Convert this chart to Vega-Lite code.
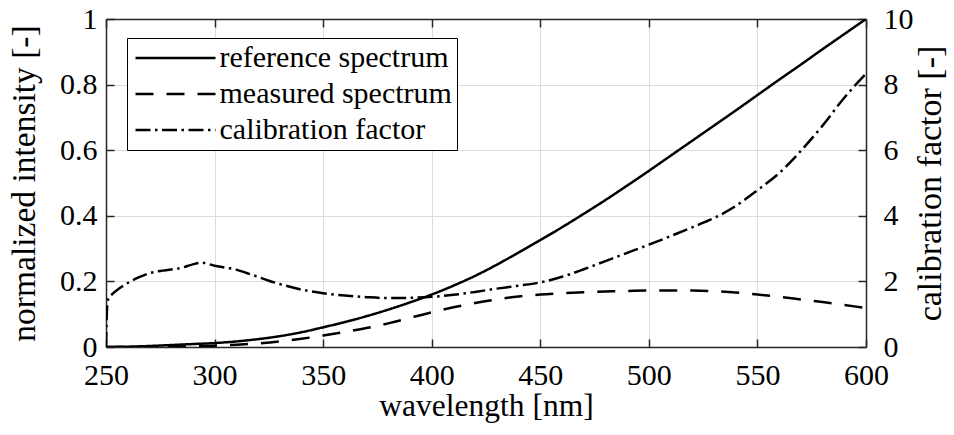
{
  "$schema": "https://vega.github.io/schema/vega-lite/v6.json",
  "width": 760,
  "height": 328,
  "autosize": {"type": "none"},
  "padding": {"left": 106, "top": 19, "right": 88, "bottom": 88},
  "background": "white",
  "config": {
    "font": "Liberation Serif",
    "view": {"stroke": null},
    "axis": {
      "domainColor": "#262626",
      "domainWidth": 1.5,
      "tickColor": "#262626",
      "tickWidth": 1.5,
      "tickSize": -8,
      "gridColor": "#dcdcdc",
      "gridWidth": 1,
      "labelFont": "Liberation Serif",
      "labelFontSize": 30,
      "labelColor": "black",
      "titleFont": "Liberation Serif",
      "titleFontSize": 31.5,
      "titleFontWeight": "normal",
      "titleColor": "black",
      "labelFlush": false,
      "labelOverlap": false,
      "format": "~r"
    }
  },
  "datasets": {
    "spectra": [
      {"wl": 250, "series": "reference spectrum", "value": 0.000},
      {"wl": 260, "series": "reference spectrum", "value": 0.001},
      {"wl": 270, "series": "reference spectrum", "value": 0.003},
      {"wl": 280, "series": "reference spectrum", "value": 0.006},
      {"wl": 290, "series": "reference spectrum", "value": 0.009},
      {"wl": 300, "series": "reference spectrum", "value": 0.012},
      {"wl": 310, "series": "reference spectrum", "value": 0.017},
      {"wl": 320, "series": "reference spectrum", "value": 0.024},
      {"wl": 330, "series": "reference spectrum", "value": 0.033},
      {"wl": 340, "series": "reference spectrum", "value": 0.045},
      {"wl": 350, "series": "reference spectrum", "value": 0.060},
      {"wl": 360, "series": "reference spectrum", "value": 0.076},
      {"wl": 370, "series": "reference spectrum", "value": 0.094},
      {"wl": 380, "series": "reference spectrum", "value": 0.114},
      {"wl": 390, "series": "reference spectrum", "value": 0.136},
      {"wl": 400, "series": "reference spectrum", "value": 0.160},
      {"wl": 410, "series": "reference spectrum", "value": 0.187},
      {"wl": 420, "series": "reference spectrum", "value": 0.217},
      {"wl": 430, "series": "reference spectrum", "value": 0.251},
      {"wl": 440, "series": "reference spectrum", "value": 0.288},
      {"wl": 450, "series": "reference spectrum", "value": 0.326},
      {"wl": 460, "series": "reference spectrum", "value": 0.365},
      {"wl": 470, "series": "reference spectrum", "value": 0.406},
      {"wl": 480, "series": "reference spectrum", "value": 0.448},
      {"wl": 490, "series": "reference spectrum", "value": 0.492},
      {"wl": 500, "series": "reference spectrum", "value": 0.537},
      {"wl": 510, "series": "reference spectrum", "value": 0.583},
      {"wl": 520, "series": "reference spectrum", "value": 0.629},
      {"wl": 530, "series": "reference spectrum", "value": 0.675},
      {"wl": 540, "series": "reference spectrum", "value": 0.721},
      {"wl": 550, "series": "reference spectrum", "value": 0.768},
      {"wl": 560, "series": "reference spectrum", "value": 0.815},
      {"wl": 570, "series": "reference spectrum", "value": 0.861},
      {"wl": 580, "series": "reference spectrum", "value": 0.908},
      {"wl": 590, "series": "reference spectrum", "value": 0.954},
      {"wl": 600, "series": "reference spectrum", "value": 1.000},
      {"wl": 250, "series": "measured spectrum", "value": 0.000},
      {"wl": 260, "series": "measured spectrum", "value": 0.000},
      {"wl": 270, "series": "measured spectrum", "value": 0.001},
      {"wl": 280, "series": "measured spectrum", "value": 0.001},
      {"wl": 290, "series": "measured spectrum", "value": 0.002},
      {"wl": 300, "series": "measured spectrum", "value": 0.004},
      {"wl": 310, "series": "measured spectrum", "value": 0.007},
      {"wl": 320, "series": "measured spectrum", "value": 0.011},
      {"wl": 330, "series": "measured spectrum", "value": 0.017},
      {"wl": 340, "series": "measured spectrum", "value": 0.025},
      {"wl": 350, "series": "measured spectrum", "value": 0.035},
      {"wl": 360, "series": "measured spectrum", "value": 0.046},
      {"wl": 370, "series": "measured spectrum", "value": 0.058},
      {"wl": 380, "series": "measured spectrum", "value": 0.072},
      {"wl": 390, "series": "measured spectrum", "value": 0.089},
      {"wl": 400, "series": "measured spectrum", "value": 0.106},
      {"wl": 410, "series": "measured spectrum", "value": 0.121},
      {"wl": 420, "series": "measured spectrum", "value": 0.134},
      {"wl": 430, "series": "measured spectrum", "value": 0.145},
      {"wl": 440, "series": "measured spectrum", "value": 0.154},
      {"wl": 450, "series": "measured spectrum", "value": 0.160},
      {"wl": 460, "series": "measured spectrum", "value": 0.164},
      {"wl": 470, "series": "measured spectrum", "value": 0.167},
      {"wl": 480, "series": "measured spectrum", "value": 0.169},
      {"wl": 490, "series": "measured spectrum", "value": 0.171},
      {"wl": 500, "series": "measured spectrum", "value": 0.172},
      {"wl": 510, "series": "measured spectrum", "value": 0.172},
      {"wl": 520, "series": "measured spectrum", "value": 0.172},
      {"wl": 530, "series": "measured spectrum", "value": 0.170},
      {"wl": 540, "series": "measured spectrum", "value": 0.166},
      {"wl": 550, "series": "measured spectrum", "value": 0.160},
      {"wl": 560, "series": "measured spectrum", "value": 0.153},
      {"wl": 570, "series": "measured spectrum", "value": 0.145},
      {"wl": 580, "series": "measured spectrum", "value": 0.137},
      {"wl": 590, "series": "measured spectrum", "value": 0.128},
      {"wl": 600, "series": "measured spectrum", "value": 0.119},
      {"wl": 250, "series": "calibration factor", "value": 0.0},
      {"wl": 250.5, "series": "calibration factor", "value": 1.2},
      {"wl": 251, "series": "calibration factor", "value": 1.45},
      {"wl": 253, "series": "calibration factor", "value": 1.62},
      {"wl": 256, "series": "calibration factor", "value": 1.78},
      {"wl": 260, "series": "calibration factor", "value": 1.95},
      {"wl": 265, "series": "calibration factor", "value": 2.12},
      {"wl": 270, "series": "calibration factor", "value": 2.25},
      {"wl": 275, "series": "calibration factor", "value": 2.32},
      {"wl": 280, "series": "calibration factor", "value": 2.36},
      {"wl": 285, "series": "calibration factor", "value": 2.42},
      {"wl": 290, "series": "calibration factor", "value": 2.52},
      {"wl": 294, "series": "calibration factor", "value": 2.57},
      {"wl": 300, "series": "calibration factor", "value": 2.48},
      {"wl": 305, "series": "calibration factor", "value": 2.42},
      {"wl": 310, "series": "calibration factor", "value": 2.36},
      {"wl": 315, "series": "calibration factor", "value": 2.25},
      {"wl": 320, "series": "calibration factor", "value": 2.14},
      {"wl": 325, "series": "calibration factor", "value": 2.02},
      {"wl": 330, "series": "calibration factor", "value": 1.92},
      {"wl": 340, "series": "calibration factor", "value": 1.75},
      {"wl": 350, "series": "calibration factor", "value": 1.64},
      {"wl": 360, "series": "calibration factor", "value": 1.57},
      {"wl": 370, "series": "calibration factor", "value": 1.52},
      {"wl": 380, "series": "calibration factor", "value": 1.49},
      {"wl": 390, "series": "calibration factor", "value": 1.50},
      {"wl": 400, "series": "calibration factor", "value": 1.53},
      {"wl": 410, "series": "calibration factor", "value": 1.59},
      {"wl": 420, "series": "calibration factor", "value": 1.68},
      {"wl": 430, "series": "calibration factor", "value": 1.78},
      {"wl": 440, "series": "calibration factor", "value": 1.87},
      {"wl": 450, "series": "calibration factor", "value": 1.97},
      {"wl": 460, "series": "calibration factor", "value": 2.14},
      {"wl": 470, "series": "calibration factor", "value": 2.37},
      {"wl": 480, "series": "calibration factor", "value": 2.62},
      {"wl": 490, "series": "calibration factor", "value": 2.87},
      {"wl": 500, "series": "calibration factor", "value": 3.12},
      {"wl": 510, "series": "calibration factor", "value": 3.38},
      {"wl": 520, "series": "calibration factor", "value": 3.65},
      {"wl": 530, "series": "calibration factor", "value": 3.93},
      {"wl": 540, "series": "calibration factor", "value": 4.30},
      {"wl": 550, "series": "calibration factor", "value": 4.78},
      {"wl": 560, "series": "calibration factor", "value": 5.30},
      {"wl": 570, "series": "calibration factor", "value": 5.98},
      {"wl": 580, "series": "calibration factor", "value": 6.75},
      {"wl": 590, "series": "calibration factor", "value": 7.60},
      {"wl": 600, "series": "calibration factor", "value": 8.33}
    ]
  },
  "data": {"name": "spectra"},
  "layer": [
    {
      "transform": [{"filter": "datum.series !== 'calibration factor'"}],
      "mark": {"type": "line", "color": "black", "strokeWidth": 2.5, "interpolate": "monotone", "clip": true},
      "encoding": {
        "x": {
          "field": "wl", "type": "quantitative",
          "scale": {"domain": [250, 600], "nice": false, "zero": false},
          "axis": {
            "orient": "bottom",
            "title": "wavelength [nm]",
            "values": [250, 300, 350, 400, 450, 500, 550, 600],
            "grid": true,
            "labelFont": "Liberation Serif",
            "labelPadding": 21,
            "titlePadding": 0
          }
        },
        "y": {
          "field": "value", "type": "quantitative",
          "scale": {"domain": [0, 1], "nice": false},
          "axis": {
            "orient": "left",
            "title": "normalized intensity [-]",
            "values": [0, 0.2, 0.4, 0.6, 0.8, 1],
            "grid": true,
            "labelFont": "Liberation Serif",
            "labelPadding": 17,
            "titleFontSize": 33.5,
            "titlePadding": 18
          }
        },
        "strokeDash": {
          "field": "series", "type": "nominal",
          "scale": {
            "domain": ["reference spectrum", "measured spectrum", "calibration factor"],
            "range": [[1, 0], [18, 13], [15, 4.5, 2.5, 4.5]]
          },
          "legend": {
            "orient": "none",
            "legendX": 21,
            "legendY": 19,
            "title": null,
            "padding": 5,
            "rowPadding": 6,
            "strokeColor": "black",
            "fillColor": "white",
            "symbolType": "M-4,0H4",
            "symbolSize": 400,
            "symbolStrokeWidth": 2.5,
            "symbolStrokeColor": "black",
            "symbolOffset": 28.5,
            "labelOffset": 29,
            "labelFont": "Liberation Serif",
            "labelFontSize": 30,
            "labelColor": "black",
            "labelLimit": 500
          }
        }
      }
    },
    {
      "transform": [{"filter": "datum.series === 'calibration factor'"}],
      "mark": {"type": "line", "color": "black", "strokeWidth": 2.5, "interpolate": "monotone", "clip": true},
      "encoding": {
        "x": {
          "field": "wl", "type": "quantitative",
          "scale": {"domain": [250, 600], "nice": false, "zero": false},
          "axis": {
            "orient": "top",
            "title": null,
            "labels": false,
            "values": [250, 300, 350, 400, 450, 500, 550, 600],
            "grid": false
          }
        },
        "y": {
          "field": "value", "type": "quantitative",
          "scale": {"domain": [0, 10], "nice": false},
          "axis": {
            "orient": "right",
            "title": "calibration factor [-]",
            "values": [0, 2, 4, 6, 8, 10],
            "grid": false,
            "labelFont": "Liberation Serif",
            "labelPadding": 25,
            "titleFontSize": 34,
            "titleAngle": -90,
            "titleBaseline": "top",
            "titlePadding": 0
          }
        },
        "strokeDash": {
          "field": "series", "type": "nominal"
        }
      }
    }
  ],
  "resolve": {"scale": {"y": "independent"}, "axis": {"x": "independent"}}
}
